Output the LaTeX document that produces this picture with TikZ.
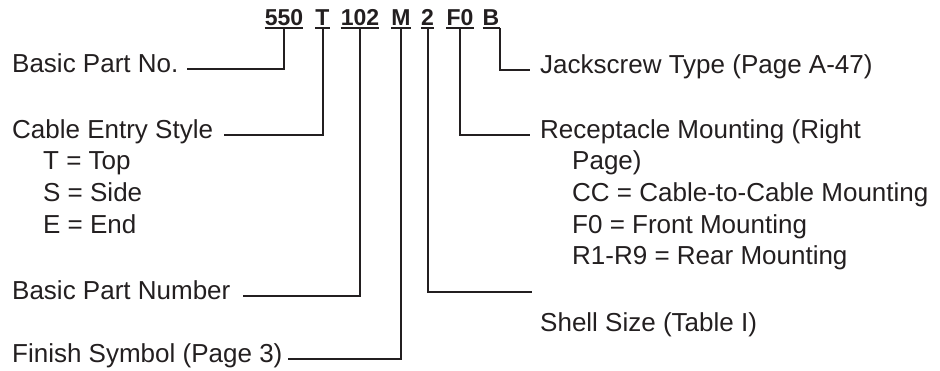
\documentclass[tikz,border=0pt]{standalone}
\usepackage{fontspec}
\setmainfont{Liberation Sans}
\usetikzlibrary{positioning}
\definecolor{ink}{HTML}{231F20}

\begin{document}
\begin{tikzpicture}[x=1pt, y=-1pt,
  code/.style={font=\fontsize{23}{23}\selectfont\bfseries, text=ink, anchor=base,
    inner xsep=0pt, inner ysep=3pt, text depth=0pt},
  lbl/.style={font=\fontsize{26}{31}\selectfont, text=ink, anchor=base west, inner sep=0pt},
  leader/.style={draw=ink, line width=2pt},
  uline/.style={draw=ink, line width=2pt}]
  \useasboundingbox (0,0) rectangle (940,370);

  % part number code
  \node[code] (c550) at (284,25) {550};
  \node[code] (cT) at (322.5,25) {T};
  \node[code] (c102) at (360,25) {102};
  \node[code] (cM) at (401,25) {M};
  \node[code] (c2) at (427.5,25) {2};
  \node[code] (cF0) at (460,25) {F0};
  \node[code] (cB) at (491,25) {B};
  \foreach \c in {c550,cT,c102,cM,c2,cF0,cB} {
    \draw[uline] (\c.south west) -- (\c.south east);
  }

  % left labels
  \node[lbl] (partno) at (12,72) {Basic Part No.};
  \node[lbl] (entry) at (12,138) {Cable Entry Style};
  \foreach \t [count=\i] in {T = Top, S = Side, E = End} {
    \node[lbl] (entry\i) at (43,{138+31.7*\i}) {\t};
  }
  \node[lbl] (partnum) at (12,299) {Basic Part Number};
  \node[lbl] (finish) at (12,362) {Finish Symbol (Page 3)};

  % right labels
  \node[lbl] (jack) at (540,73) {Jackscrew Type (Page A-47)};
  \node[lbl] (recept) at (540,138) {Receptacle Mounting (Right};
  \foreach \t [count=\i] in {Page), CC = Cable-to-Cable Mounting, F0 = Front Mounting, R1-R9 = Rear Mounting} {
    \node[lbl] (recept\i) at (572,{138+31.7*\i}) {\t};
  }
  \node[lbl] (shell) at (540,331) {Shell Size (Table I)};
  \coordinate (shellend) at (532,292);

  % leaders
  \draw[leader] (c550.south) |- ([xshift=8pt]partno.mid east);
  \draw[leader] (cT.south) |- ([xshift=11pt]entry.mid east);
  \draw[leader] (c102.south) |- ([xshift=12pt]partnum.mid east);
  \draw[leader] (cM.south) |- ([xshift=5pt]finish.mid east);
  \draw[leader] (c2.south) |- (shellend);
  \draw[leader] (cF0.south) |- ([xshift=-10pt]recept.mid west);
  \draw[leader] (cB.south east) |- ([xshift=-10pt]jack.mid west);
\end{tikzpicture}
\end{document}
